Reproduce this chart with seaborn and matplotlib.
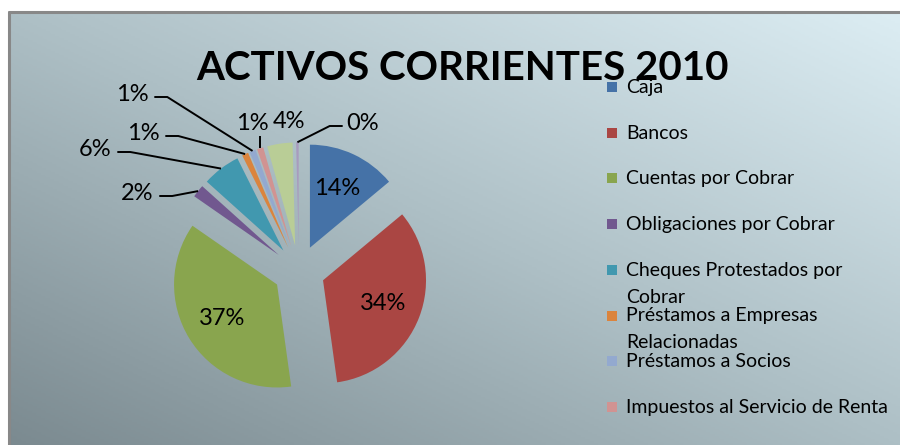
import matplotlib
matplotlib.use("Agg")
import matplotlib.pyplot as plt
import numpy as np
import seaborn as sns
from matplotlib.patches import Rectangle
from matplotlib.colors import LinearSegmentedColormap

# Data - share of current assets 2010 (%)
categories = ["Caja", "Bancos", "Cuentas por Cobrar", "Obligaciones por Cobrar",
              "Cheques Protestados por Cobrar", "Préstamos a Empresas Relacionadas",
              "Préstamos a Socios", "Impuestos al Servicio de Renta",
              "Inventarios", "Otros Activos"]
shares = [14, 34, 37, 2, 6, 1, 1, 1, 4, 0.4]
# legend is cut off after 8 entries in the original
legend_labels = ["Caja", "Bancos", "Cuentas por Cobrar", "Obligaciones por Cobrar",
                 "Cheques Protestados por\nCobrar", "Préstamos a Empresas\nRelacionadas",
                 "Préstamos a Socios", "Impuestos al Servicio de Renta"]
colors = ["#4572A7", "#AA4643", "#89A54E", "#71588F", "#4198AF",
          "#DB843D", "#93A9CF", "#D19392", "#B9CD96", "#A99BBD"]

sns.set_theme(style="white")
plt.rcParams["font.family"] = ["Lato", "DejaVu Sans"]

W, H = 900, 445
fig = plt.figure(figsize=(W / 100, H / 100), dpi=100)

# background panel, pixel coords with y going down
bg = fig.add_axes([0, 0, 1, 1])
gx, gy = np.meshgrid(np.linspace(0, 1, 400), np.linspace(0, 1, 200))
grad = (gx + (1 - gy)) / 2
cmap = LinearSegmentedColormap.from_list("panel", ["#7b8a90", "#adbfc5", "#dcedf3"])
bg.imshow(grad, cmap=cmap, extent=(8, W, H, 12), origin="upper", aspect="auto")
bg.plot([8.5, 8.5], [H, 12], color="#888888", lw=2.2)
bg.plot([8.5, W], [12, 12], color="#888888", lw=2.2)
bg.set_xlim(0, W)
bg.set_ylim(H, 0)
bg.axis("off")

bg.text(462, 80, "ACTIVOS CORRIENTES 2010", ha="center", va="baseline",
        fontsize=29, fontweight="bold", color="black")

# legend (drawn by hand: wrapped entries don't push the next one down)
for i, lab in enumerate(legend_labels):
    y = 87 + i * 45.7
    bg.add_patch(Rectangle((607, y - 5), 10, 10, color=colors[i], lw=0))
    for k, line in enumerate(lab.split("\n")):
        bg.text(626, y + 6 + k * 27, line, fontsize=14, ha="left",
                va="baseline", color="black")

# pie
cx, cy, R = 299, 271, 103
ax = fig.add_axes([0, 0, 600 / W, 1])
wedges, texts, autotexts = ax.pie(
    shares, colors=colors, explode=[0.25] * len(shares), startangle=90,
    counterclock=False, autopct="%1.0f%%", pctdistance=0.63,
    textprops=dict(fontsize=17, color="black"), wedgeprops=dict(linewidth=0))
ax.set_aspect("auto")
ax.set_xlim(-cx / R, (600 - cx) / R)
ax.set_ylim((cy - H) / R, cy / R)
ax.axis("off")


def to_data(px, py):
    return (px - cx) / R, (cy - py) / R


# outside labels for the small slices: (x px, y px, leader side)
outside = {3: (137, 193, "right"), 4: (95, 149, "right"), 5: (143, 133, "right"),
           6: (132, 94, "right"), 7: (252, 123, "down"), 8: (289, 121, None),
           9: (363, 123, "left")}
for i, (px, py, side) in outside.items():
    autotexts[i].set_position(to_data(px, py))
    autotexts[i].set_ha("center")
    autotexts[i].set_va("center")

fig.canvas.draw()
renderer = fig.canvas.get_renderer()
inv = ax.transData.inverted()
for i, (px, py, side) in outside.items():
    if side is None:
        continue
    w = wedges[i]
    mid = np.deg2rad((w.theta1 + w.theta2) / 2)
    ex = w.center[0] + w.r * np.cos(mid)
    ey = w.center[1] + w.r * np.sin(mid)
    bb = autotexts[i].get_window_extent(renderer).transformed(inv)
    ly = (bb.y0 + bb.y1) / 2 - 3 / R
    if side == "right":
        x0 = bb.x1 + 6 / R
        xs, ys = [x0, x0 + 13 / R, ex], [ly, ly, ey]
    elif side == "left":
        x0 = bb.x0 - 4 / R
        xs, ys = [x0, x0 - 13 / R, ex], [ly, ly, ey]
    else:
        xs, ys = [ex, ex], [ey, bb.y0 - 2 / R]
    ax.plot(xs, ys, color="black", lw=1.4, solid_capstyle="butt")

fig.savefig("out.png", dpi=100)
